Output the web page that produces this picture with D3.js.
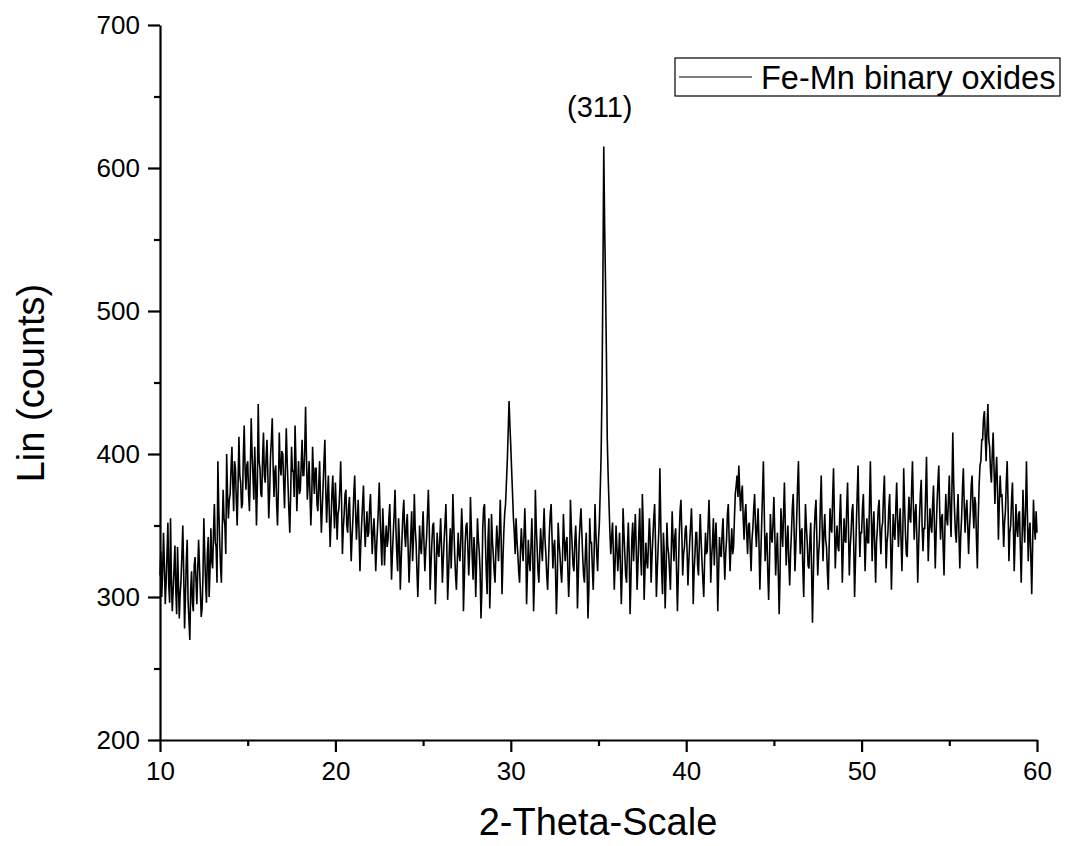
<!DOCTYPE html>
<html>
<head>
<meta charset="utf-8">
<script src="https://cdn.jsdelivr.net/npm/d3@7"></script>
<style>
  body { margin: 0; background: #fff; }
  svg text { font-family: Arial, "Liberation Sans", sans-serif; fill: #000; }
</style>
</head>
<body>
<svg id="chart" width="1067" height="846"></svg>
<script>
// scan parameters (2-theta start / step, degrees)
const thetaStart = 10;
const thetaStep = 0.05;

// intensity readings, one row per degree (x.00 ... x.95)
const counts = [
  315,332,300,318,345,322,295,310,330,352,308,296,355,312,290,305,320,336,305,288,   // 10
  335,310,285,302,312,330,350,318,278,300,325,340,298,284,270,305,318,296,290,322,   // 11
  328,312,295,318,340,322,305,286,292,315,355,330,310,296,330,342,300,318,348,325,   // 12
  320,345,365,338,335,310,395,362,340,322,310,348,375,355,350,330,400,372,355,368,   // 13
  372,390,405,380,360,395,390,368,350,378,412,385,380,362,365,398,420,390,375,392,   // 14
  395,372,360,388,425,400,385,368,405,382,350,378,435,395,390,372,370,398,415,385,   // 15
  380,398,410,385,355,372,398,410,425,392,370,388,392,365,350,375,415,392,385,402,   // 16
  400,380,362,390,418,395,378,360,345,372,405,388,388,370,420,395,360,378,395,372,   // 17
  375,392,410,385,385,402,433,398,368,380,395,372,350,368,405,385,372,390,390,365,   // 18
  360,378,395,368,345,362,378,395,410,375,352,370,385,360,335,352,372,385,365,348,   // 19
  380,362,340,358,362,375,395,368,330,348,358,372,375,350,345,362,370,348,325,342,   // 20
  355,372,385,360,340,355,368,345,318,338,352,365,378,352,335,348,360,342,345,362,   // 21
  372,350,330,345,355,340,318,335,348,362,380,355,338,322,362,345,322,340,350,335,   // 22
  340,355,365,340,312,330,345,358,375,348,330,318,355,340,305,325,342,358,368,345,   // 23
  335,350,358,332,310,328,345,360,325,340,372,348,338,318,300,322,350,335,330,345,   // 24
  360,338,318,332,342,358,375,350,305,322,338,350,352,330,295,318,345,332,328,340,   // 25
  355,335,310,326,340,352,365,338,298,315,335,348,320,340,372,350,330,315,305,325,   // 26
  345,330,325,340,362,345,290,312,338,350,352,335,315,330,370,348,328,312,342,330,   // 27
  300,325,355,340,332,318,285,305,348,362,365,340,318,302,340,355,292,315,358,340,   // 28
  330,318,310,332,350,338,325,345,368,340,302,325,345,358,365,380,395,415,437,420,   // 29
  405,388,372,355,345,330,355,340,330,318,310,332,348,335,325,342,362,340,295,318,   // 30
  340,325,318,335,355,332,290,312,375,350,335,318,310,330,348,335,325,345,362,340,   // 31
  330,315,305,325,345,358,365,342,320,335,340,318,288,310,352,338,330,318,310,328,   // 32
  358,340,325,338,342,320,300,318,368,350,335,322,318,338,350,332,292,315,340,352,   // 33
  362,345,328,315,310,330,345,318,285,305,355,338,338,320,305,330,365,345,330,318,   // 34
  340,352,375,400,445,520,615,560,520,470,410,385,365,345,330,342,352,330,305,325,   // 35
  350,335,318,330,345,322,295,318,362,345,330,315,310,335,352,330,288,312,340,352,   // 36
  325,342,358,335,305,322,345,362,330,315,372,350,298,318,338,325,320,338,355,340,   // 37
  310,328,342,355,365,338,300,318,335,350,390,352,318,302,345,330,292,315,352,335,   // 38
  330,318,305,332,360,340,325,342,348,318,290,315,342,360,368,345,315,330,335,348,   // 39
  350,332,308,325,338,350,362,340,295,318,330,345,345,322,315,338,358,340,325,312,   // 40
  300,325,345,330,332,350,368,345,310,328,338,355,322,340,352,330,290,318,342,330,   // 41
  328,345,355,332,312,330,340,358,365,340,318,335,348,330,335,355,372,378,385,370,   // 42
  392,375,360,372,378,355,340,358,365,345,330,350,352,335,318,340,348,362,372,350,   // 43
  335,350,362,338,305,328,350,372,395,360,325,340,345,318,298,325,358,342,338,352,   // 44
  370,345,315,332,345,318,288,315,362,348,335,358,380,350,322,338,350,325,308,330,   // 45
  345,362,372,348,318,335,355,378,395,360,330,345,348,320,300,335,365,350,338,322,   // 46
  320,340,352,318,282,315,345,360,368,340,315,330,340,365,385,350,325,345,358,340,   // 47
  335,318,305,335,362,348,345,370,390,355,320,338,350,335,332,355,372,345,310,332,   // 48
  355,340,338,362,380,348,315,335,345,360,365,338,300,325,350,372,392,355,328,345,   // 49
  345,362,372,345,318,340,355,338,338,365,395,360,325,348,360,335,310,338,348,362,   // 50
  368,345,330,348,352,372,385,350,320,338,345,362,372,340,305,332,358,345,340,362,   // 51
  380,355,335,350,362,340,318,345,390,365,345,330,328,352,370,355,352,375,395,365,   // 52
  340,358,365,342,310,335,355,372,382,350,332,348,348,372,398,360,325,345,362,350,   // 53
  345,365,378,350,320,345,365,380,392,362,340,355,358,335,315,348,372,355,350,368,   // 54
  385,360,342,375,415,380,360,345,338,358,372,345,320,342,355,375,390,365,345,360,   // 55
  368,350,330,348,360,378,385,362,348,370,365,340,320,355,378,392,395,410,410,425,   // 56
  430,412,395,418,435,410,405,388,380,400,415,390,365,385,398,375,340,365,385,370,   // 57
  372,355,335,352,360,380,395,365,325,345,350,368,380,352,318,340,365,348,342,358,   // 58
  360,335,310,340,375,352,338,362,395,360,325,345,352,328,302,335,368,350,340,360,   // 59
  345                                                                                // 60
];

const xTicks = [10, 20, 30, 40, 50, 60];
const xMinor = [15, 25, 35, 45, 55];
const yTicks = [200, 300, 400, 500, 600, 700];
const yMinor = [250, 350, 450, 550, 650];

const seriesName = "Fe-Mn binary oxides";
const peakLabel = "(311)";
const peakTheta = 35.3;
const peakCounts = 615;

const svg = d3.select("#chart");

const x = d3.scaleLinear().domain([10, 60]).range([160, 1037]);
const y = d3.scaleLinear().domain([200, 700]).range([740, 25]);

const data = counts.map((c, i) => ({ theta: thetaStart + i * thetaStep, c: c }));

// pattern
const line = d3.line()
  .x(d => x(d.theta))
  .y(d => y(d.c));

svg.append("path")
  .datum(data)
  .attr("fill", "none")
  .attr("stroke", "#000")
  .attr("stroke-width", 1.6)
  .attr("d", line);

// axes
svg.append("g")
  .attr("transform", "translate(0,740)")
  .call(d3.axisBottom(x).tickValues(xTicks).tickSize(12).tickSizeOuter(0).tickPadding(10));

svg.append("g")
  .attr("transform", "translate(0,740)")
  .call(d3.axisBottom(x).tickValues(xMinor).tickSize(6).tickFormat(""))
  .call(g => g.select(".domain").remove());

svg.append("g")
  .attr("transform", "translate(160,0)")
  .call(d3.axisLeft(y).tickValues(yTicks).tickSize(12).tickSizeOuter(0).tickPadding(8));

svg.append("g")
  .attr("transform", "translate(160,0)")
  .call(d3.axisLeft(y).tickValues(yMinor).tickSize(6).tickFormat(""))
  .call(g => g.select(".domain").remove());

svg.selectAll(".domain").attr("stroke-width", 2.2);
svg.selectAll(".tick line").attr("stroke-width", 2.2);
svg.selectAll(".tick text")
  .style("font-family", "Arial, 'Liberation Sans', sans-serif")
  .style("font-size", "26px");

// axis titles
svg.append("text")
  .attr("x", 598)
  .attr("y", 835)
  .attr("text-anchor", "middle")
  .style("font-size", "38px")
  .text("2-Theta-Scale");

svg.append("text")
  .attr("transform", "translate(44,383) rotate(-90)")
  .attr("text-anchor", "middle")
  .style("font-size", "38px")
  .text("Lin (counts)");

// peak annotation
svg.append("text")
  .attr("x", x(peakTheta) - 4)
  .attr("y", y(peakCounts) - 30)
  .attr("text-anchor", "middle")
  .style("font-size", "29px")
  .text(peakLabel);

// legend
const legend = svg.append("g");
legend.append("rect")
  .attr("x", 675).attr("y", 58)
  .attr("width", 385).attr("height", 38)
  .attr("fill", "#fff")
  .attr("stroke", "#000")
  .attr("stroke-width", 1.2);
legend.append("line")
  .attr("x1", 679).attr("x2", 752)
  .attr("y1", 77).attr("y2", 77)
  .attr("stroke", "#000")
  .attr("stroke-width", 1);
legend.append("text")
  .attr("x", 761)
  .attr("y", 89)
  .style("font-size", "32.5px")
  .text(seriesName);
</script>
</body>
</html>
